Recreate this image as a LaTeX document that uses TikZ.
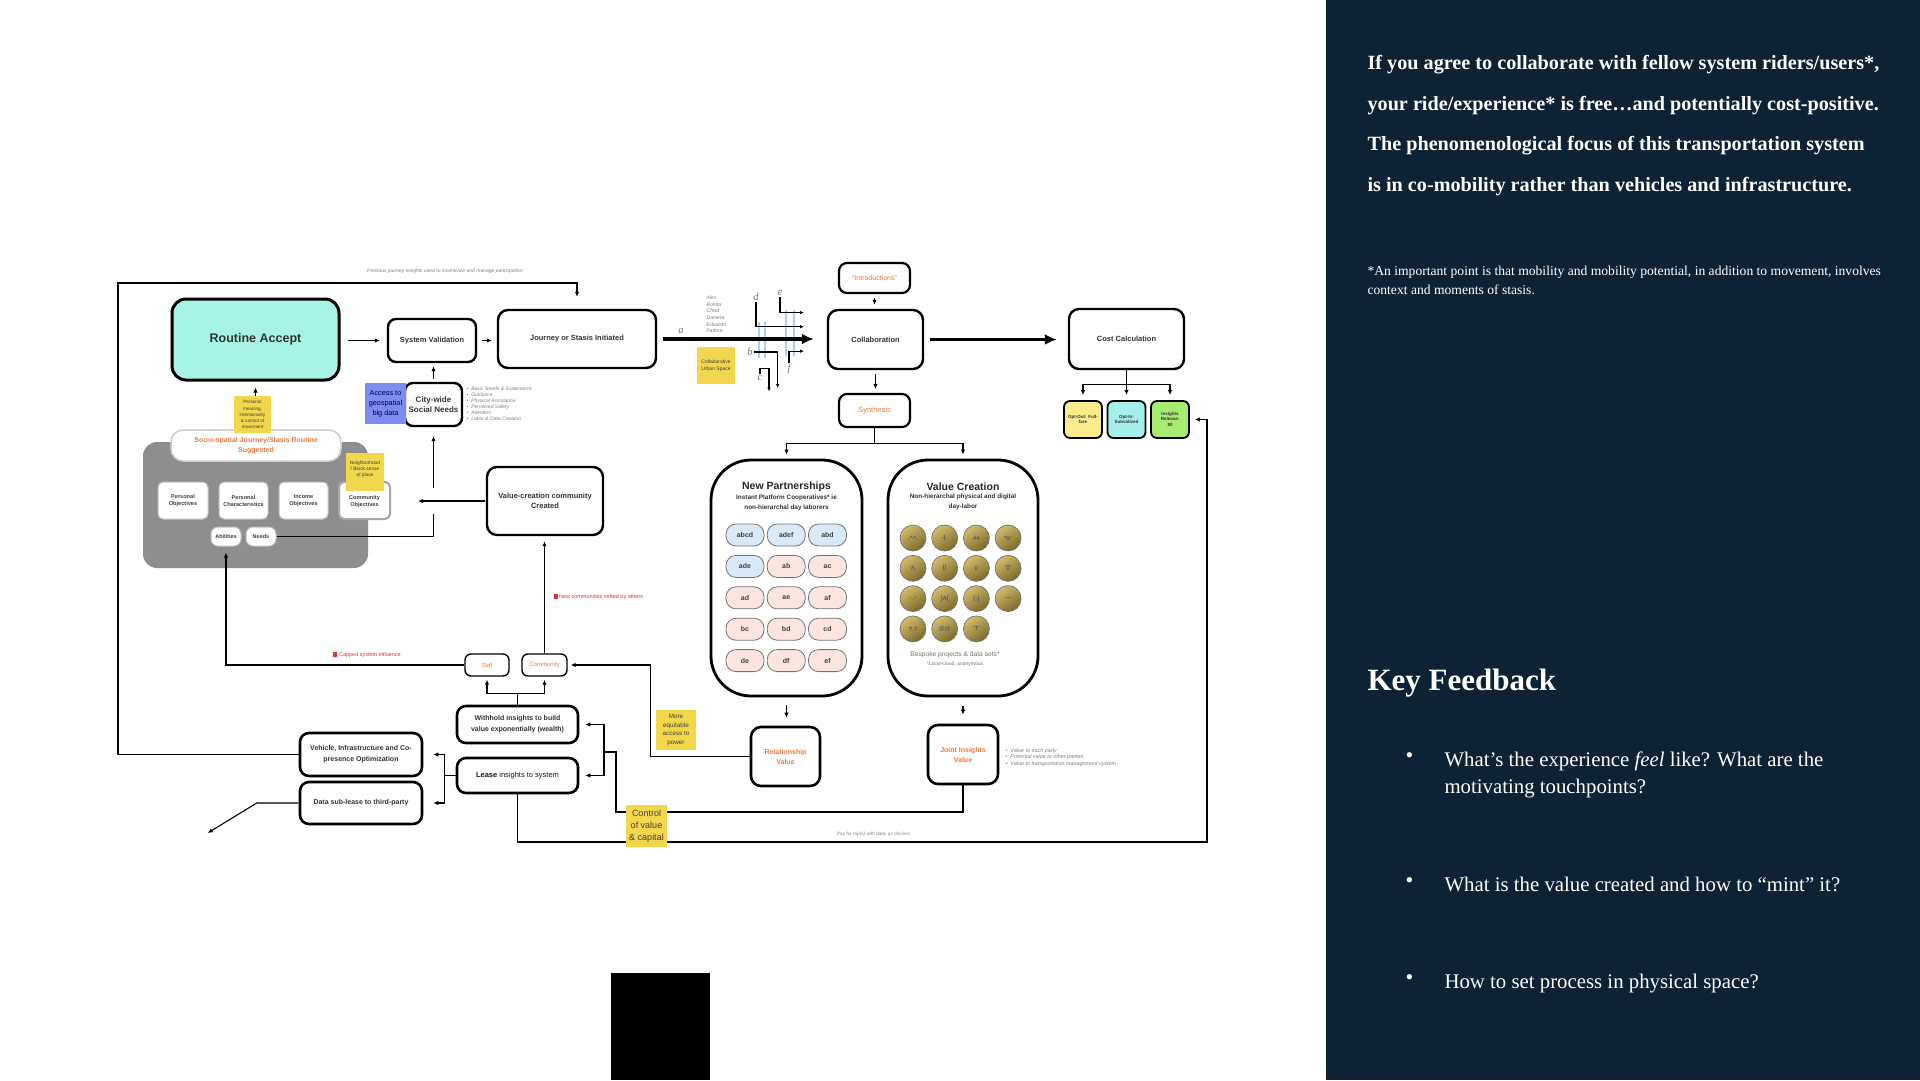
\documentclass[tikz,border=0pt]{standalone}
\usepackage{fontspec}
\setmainfont{Liberation Sans}
\newfontfamily\panelserif{Liberation Serif}
\usetikzlibrary{arrows.meta, positioning, calc}

\definecolor{panelnavy}{HTML}{0F2233}
\definecolor{routinecyan}{HTML}{A7F3E6}
\definecolor{stickyyellow}{HTML}{F2D64B}
\definecolor{stickyblue}{HTML}{7D8CF0}
\definecolor{noteorange}{HTML}{E97A3B}
\definecolor{panelgray}{HTML}{8E8E8E}
\definecolor{pillblue}{HTML}{D9E9F7}
\definecolor{pillpink}{HTML}{FBE6DF}
\definecolor{optyellow}{HTML}{F8EC8C}
\definecolor{optcyan}{HTML}{A6F0EA}
\definecolor{optgreen}{HTML}{A8EB73}
\definecolor{coinlight}{HTML}{D2BE6C}
\definecolor{coindark}{HTML}{7A682A}
\definecolor{flagred}{HTML}{D93A2B}
\definecolor{splitblue}{HTML}{A9CFF4}

\newcommand\fsz[2]{\fontsize{#1}{#2}\selectfont}

\begin{document}
\begin{tikzpicture}[
    x=1pt, y=-1pt,
    >={Latex[length=5pt,width=4.4pt]},
    line width=1.1pt,
    box/.style={draw, line width=2.4pt, rounded corners=8pt, fill=white, align=center, inner sep=1pt, font=\bfseries\fsz{7.5}{10}, text=black!80},
    tagbox/.style={draw, line width=1.4pt, rounded corners=6pt, fill=white, align=center, inner sep=1pt, font=\fsz{6}{7}, text=noteorange},
    optbox/.style={draw, line width=1.8pt, rounded corners=6pt, align=center, inner sep=0.5pt, minimum width=38pt, minimum height=37pt, font=\bfseries\fsz{4.5}{5.4}, text=black!80},
    innerbox/.style={draw=black!25, line width=1pt, fill=white, rounded corners=5pt, align=center, inner sep=1pt, minimum height=37pt, font=\bfseries\fsz{5.6}{7}, text=black!75},
    sticky/.style={fill=stickyyellow, align=center, inner sep=1pt, text=black!75},
    pill/.style={draw=black!55, line width=0.8pt, rounded corners=10pt, minimum width=38pt, minimum height=22pt, font=\bfseries\fsz{7}{8}, text=black!75},
    coin/.style={circle, draw=black!55, line width=0.7pt, minimum size=26pt, inner sep=0pt, top color=coinlight, bottom color=coindark, shading angle=35, font=\bfseries\fsz{6}{7}, text=black!65},
    note/.style={font=\itshape\fsz{5}{6}, text=black!50, inner sep=0pt},
    flagnote/.style={font=\fsz{5.5}{6}, text=flagred, inner sep=0pt, anchor=west},
    greek/.style={font=\panelserif\itshape\fsz{10.5}{11}, text=black!55, inner sep=0.5pt},
    branch/.style={->, line width=1.2pt, >={Latex[length=4pt,width=3.5pt]}},
    bigarrow/.style={->, line width=3.6pt, >={Latex[length=12pt,width=11pt]}},
    gapped/.style={shorten <=#1, shorten >=#1},
    lead/.style={font=\panelserif\bfseries\fsz{20.2}{23}, text=white, inner sep=0pt, anchor=base west},
    footnote/.style={font=\panelserif\fsz{13.6}{15}, text=white, inner sep=0pt, anchor=base west},
    fbitem/.style={font=\panelserif\fsz{20.8}{24}, text=white, inner sep=0pt, anchor=base west},
]
    \useasboundingbox (0,0) rectangle (1920,1080);
    \fill[white] (0,0) rectangle (1326,1080);
    \fill[panelnavy] (1326,0) rectangle (1920,1080);

    \node[box, fill=routinecyan, line width=3pt, rounded corners=14pt, minimum width=167pt, minimum height=81pt, font=\bfseries\fsz{12.5}{14}] (routine) at (255.5,339.5) {Routine Accept};
    \node[box, minimum width=88pt, minimum height=43pt] (sysval) at (432,340.5) {System Validation};
    \node[box, minimum width=158pt, minimum height=58pt, rounded corners=10pt] (journey) at (577,339) {Journey or Stasis Initiated};
    \node[box, minimum width=95pt, minimum height=59pt, rounded corners=10pt] (collab) at (875.5,339.5) {Collaboration};
    \node[tagbox, line width=2.2pt, rounded corners=8pt, minimum width=71pt, minimum height=30pt, font=\fsz{7}{8}] (intro) at (874.5,278) {“Introductions”};
    \node[tagbox, line width=2.2pt, rounded corners=8pt, minimum width=71pt, minimum height=33pt, font=\fsz{7.5}{8}] (synth) at (874.5,410.5) {Synthesis};
    \node[box, minimum width=115pt, minimum height=60pt, rounded corners=10pt] (cost) at (1126.5,339) {Cost Calculation};
    \node[optbox, fill=optyellow] (optout) at (1083,419.5) {Opt-Out: Full-\\fare};
    \node[optbox, fill=optcyan] (optin) at (1126.5,419.5) {Opt-In:\\Subsidized};
    \node[optbox, fill=optgreen] (release) at (1170,419.5) {Insights\\Release:\\\$0};

    \node[fill=panelgray, rounded corners=14pt, minimum width=225pt, minimum height=126pt] (routinepanel) at (255.5,505) {};
    \node[draw=black!20, line width=1.5pt, fill=white, rounded corners=12pt, minimum width=170pt, minimum height=31pt, align=center, inner sep=1pt, font=\bfseries\fsz{7}{10}, text=noteorange] (socio) at (256,445.5) {Socio-spatial Journey/Stasis Routine\\Suggested};
    \node[innerbox, minimum width=50pt] (persobj) at (183,500.5) {Personal\\Objectives};
    \node[innerbox, minimum width=49pt] (perschar) at (243.5,500.5) {Personal\\Characteristics};
    \node[innerbox, minimum width=49pt] (incobj) at (303.5,500.5) {Income\\Objectives};
    \node[innerbox, minimum width=51pt, draw=black!35, line width=2pt] (commobj) at (364.5,500.5) {\\Community\\Objectives};
    \node[innerbox, minimum width=30pt, minimum height=19pt, rounded corners=7pt, font=\bfseries\fsz{5.5}{6}] (abilities) at (226,536.5) {Abilities};
    \node[innerbox, minimum width=30pt, minimum height=19pt, rounded corners=7pt, font=\bfseries\fsz{5.5}{6}] (needs) at (261,536.5) {Needs};

    \node[box, minimum width=57pt, minimum height=43pt, font=\bfseries\fsz{8}{10}] (citywide) at (433.5,404.5) {City-wide\\Social Needs};
    \node[fill=stickyblue, minimum size=41pt, inner sep=1pt, align=center, font=\fsz{7.3}{9.8}, text=black!70!blue] (geodata) at (385.5,403.5) {Access to\\geospatial\\big data};
    \node[note, anchor=north west, align=left] (needlist) at (466,386) {\textbullet\hspace{3pt}Basic Needs \& Sustenance\\\textbullet\hspace{3pt}Guidance\\\textbullet\hspace{3pt}Physical Assistance\\\textbullet\hspace{3pt}Perceived Safety\\\textbullet\hspace{3pt}Attention\\\textbullet\hspace{3pt}Labor \& Data Creation};
    \node[box, minimum width=116pt, minimum height=68pt, rounded corners=10pt] (valcomm) at (545,501) {Value-creation community\\Created};

    \node[draw, line width=2.8pt, rounded corners=40pt, minimum width=151pt, minimum height=236pt] (partner) at (786.5,578) {};
    \node[font=\bfseries\fsz{10.5}{12}, text=black!85, inner sep=0pt] (partnertitle) at (786.5,487) {New Partnerships};
    \node[font=\bfseries\fsz{6.4}{9.5}, text=black!80, align=center, inner sep=0pt, below=2pt of partnertitle] (partnersub) {Instant Platform Cooperatives* ie\\non-hierarchal day laborers};
    \node[draw, line width=2.8pt, rounded corners=40pt, minimum width=150pt, minimum height=236pt] (valcre) at (963,578) {};
    \node[font=\bfseries\fsz{10.5}{12}, text=black!85, inner sep=0pt] (valcretitle) at (963,487) {Value Creation};
    \node[font=\bfseries\fsz{6.4}{9.5}, text=black!80, align=center, inner sep=0pt, below=2pt of valcretitle] (valcresub) {Non-hierarchal physical and digital\\day-labor};

    \foreach \lab/\col/\row/\tone in {abcd/0/0/pillblue, adef/1/0/pillblue, abd/2/0/pillblue, ade/0/1/pillblue, ab/1/1/pillpink, ac/2/1/pillpink, ad/0/2/pillpink, ae/1/2/pillpink, af/2/2/pillpink, bc/0/3/pillpink, bd/1/3/pillpink, cd/2/3/pillpink, de/0/4/pillpink, df/1/4/pillpink, ef/2/4/pillpink}
        \node[pill, fill=\tone] (pill-\lab) at ({745+41.25*\col},{535+31.4*\row}) {\lab};

    \foreach \face [count=\k from 0] in {{.\textasciicircum\textasciicircum.}, {-\textbar-}, {\#\#}, {`\%`}, {'/\textbackslash.}, {()}, {\textbackslash/}, {'||'}, {-\_-}, {]A[}, {[-]}, {-{}-{}-}, {?.?}, {@@}, {'T'}}{
        \pgfmathtruncatemacro{\ccol}{mod(\k,4)}
        \pgfmathtruncatemacro{\crow}{floor(\k/4)}
        \node[coin] (coin\k) at ({913+31.7*\ccol},{538+30.3*\crow}) {\face};
    }
    \node[font=\fsz{6.7}{8}, text=black!55, inner sep=0pt] (bespoke) at (955,655) {Bespoke projects \& data sets*};
    \node[font=\fsz{5}{6}, text=black!55, inner sep=0pt, below=3pt of bespoke] (localcloud) {*Local-cloud, anonymous};

    \node[box, line width=2.6pt, rounded corners=10pt, minimum width=69pt, minimum height=59pt, font=\bfseries\fsz{7}{10}, text=noteorange] (relval) at (785.5,756.5) {Relationship\\Value};
    \node[box, line width=2.6pt, rounded corners=10pt, minimum width=70pt, minimum height=59pt, font=\bfseries\fsz{7}{10}, text=noteorange] (joint) at (963,754.5) {Joint Insights\\Value};
    \node[note, anchor=north west, align=left, font=\itshape\fsz{5.4}{6.5}] (jointlist) at (1005,748) {\textbullet\hspace{3pt}Value to each party\\\textbullet\hspace{3pt}Potential value to other parties\\\textbullet\hspace{3pt}Value to transportation management system};

    \node[tagbox, minimum width=44pt, minimum height=22pt] (self) at (487,665) {Self};
    \node[tagbox, minimum width=45pt, minimum height=22pt] (commun) at (544.5,665) {Community};
    \node[box, line width=2.6pt, rounded corners=9pt, minimum width=121pt, minimum height=37pt, font=\bfseries\fsz{7}{10.7}] (withhold) at (517.5,724.5) {Withhold insights to build\\value exponentially (wealth)};
    \node[box, line width=2.6pt, rounded corners=9pt, minimum width=121pt, minimum height=35pt, font=\fsz{7.5}{10}, text=black!90] (lease) at (517.5,775.5) {\textbf{Lease} insights to system};
    \node[box, line width=2.6pt, rounded corners=9pt, minimum width=122pt, minimum height=43pt, font=\bfseries\fsz{7}{10.7}] (vehicle) at (361,754.5) {Vehicle, Infrastructure and Co-\\presence Optimization};
    \node[box, line width=2.6pt, rounded corners=9pt, minimum width=122pt, minimum height=42pt, font=\bfseries\fsz{7}{10.7}] (datasub) at (361,803) {Data sub-lease to third-party};

    \node[note] (prevlabel) at (445,271) {Previous journey insights used to incentivize and manage participation};
    \node[flagnote] (cappedlabel) at (332,655) {\rule{4.5pt}{4.5pt}\hspace{2pt}Capped system influence};
    \node[flagnote] (vettedlabel) at (553,597) {\rule{4.5pt}{4.5pt}\hspace{1pt}New communities vetted by others};
    \node[note, font=\itshape\fsz{4.7}{6}] (paylabel) at (874,834) {Pay for trip(s) with data, as desired.};
    \node[note, anchor=north west, align=left, font=\itshape\fsz{5.2}{6.7}] (riders) at (706,295) {Alex\\Bonita\\Chad\\Daniela\\Eduardo\\Fatima};

    \draw[->, gapped=7] (routine.east |- sysval.west) -- (sysval.west);
    \draw[->, gapped=5] (sysval.east) -- (sysval.east -| journey.west);
    \foreach \xs/\ya/\yb in {759/322/358, 765/322/358, 786/310/356, 794/310/356}
        \draw[splitblue, line width=1.8pt] (\xs,\ya) -- (\xs,\yb);
    \draw[bigarrow, shorten <=6pt, shorten >=13pt] (journey.east) -- (journey.east -| collab.west);
    \draw[->, gapped=4] (intro.south) -- (intro.south |- collab.north);
    \draw[->, gapped=4] (collab.south) -- (collab.south |- synth.north);
    \draw[bigarrow, shorten <=6pt, shorten >=11pt] (collab.east) -- (collab.east -| cost.west);
    \draw (cost.south) -- ++(0,14) coordinate (costsplit);
    \foreach \opt in {optout, optin, release}
        \draw[->, shorten >=5pt] (costsplit) -| (\opt.north);
    \draw (synth.south) -- ++(0,15) coordinate (synthsplit);
    \draw[->, shorten >=4pt] (synthsplit) -| (partner.north);
    \draw[->, shorten >=4pt] (synthsplit) -| (valcre.north);
    \draw[->, gapped=8] (partner.south) -- (partner.south |- relval.north);
    \draw[->, gapped=9] (valcre.south) -- (valcre.south |- joint.north);

    \node[greek] (lbla) at (681,331) {a};
    \node[greek] (lbld) at (756,297) {d};
    \node[greek] (lble) at (780,293) {e};
    \node[greek] (lblb) at (750,352) {b};
    \node[greek] (lblc) at (760,378) {c};
    \node[greek] (lblf) at (789,369) {f};
    \draw[branch] (lbld.south) |- ++(48,25);
    \draw[branch] (lble.south) |- ++(24,16);
    \draw[branch] (lblb.east) -| ++(24,36);
    \draw[branch] (lblc.north) -- ++(0,-6) -| ++(9,23);
    \draw[branch] (lblf.north) |- ++(15,-12);
    \node[sticky, minimum width=38pt, minimum height=37pt, font=\fsz{5}{7.3}] (urbanspace) at (716,365.5) {Collaborative\\Urban Space};

    \draw[->, gapped=3] (citywide.north) -- (citywide.north |- sysval.south);
    \draw[->, shorten >=9pt] (needs.east) -| (citywide.south);
    \draw[->, shorten <=1pt, shorten >=27pt, preaction={draw=white, line width=26pt, -}] (valcomm.west) -- (valcomm.west -| commobj.east);
    \draw[->, shorten >=5pt] (commun.north) -- (commun.north |- valcomm.south);
    \draw[->, shorten >=6pt] (self.west) -| (abilities.south);
    \draw (withhold.north) -- ++(0,-11) coordinate (holdsplit);
    \draw[->, shorten >=3pt] (holdsplit) -| (self.south);
    \draw[->, shorten >=3pt] (holdsplit) -| (commun.south);
    \draw[->, shorten >=3pt] (relval.west) -| ($(commun.east)+(83,0)$) -- (commun.east);
    \draw (lease.west) -- ++(-11,0) coordinate (leasesplit);
    \draw[->, shorten >=10pt] (leasesplit) |- (vehicle.east);
    \draw[->, shorten >=10pt] (leasesplit) |- (datasub.east);
    \draw[->] (datasub.west) -- ++(-42,0) -- ++(-49,30);
    \coordinate (loopcorner) at (118,283);
    \draw[->, shorten >=12pt] (vehicle.west) -| (loopcorner) -| (journey.north);
    \coordinate (capitalturn) at (616,812);
    \coordinate (capitalsplit) at (604,752);
    \draw (joint.south) |- (capitalturn) |- (capitalsplit);
    \draw[->, shorten >=6pt] (capitalsplit) |- (withhold.east);
    \draw[->, shorten >=6pt] (capitalsplit) |- (lease.east);
    \coordinate (payturn) at (1207,842);
    \draw[->, shorten >=5pt] (lease.south) |- (payturn) |- (release.east);
    \draw[->, shorten >=6pt] (socio.north -| routine.south) -- (routine.south);

    \node[sticky, minimum width=37pt, minimum height=37pt, font=\fsz{4.6}{6.1}] (meaning) at (252.5,414.5) {Personal\\meaning,\\intentionality\\\& control of\\movement};
    \node[sticky, minimum width=38pt, minimum height=38pt, font=\fsz{4.8}{6}] (placesense) at (365,472) {Neighborhood\\/ Block sense\\of place\\~};
    \node[sticky, minimum width=40pt, minimum height=40pt, font=\fsz{6.3}{8.7}] (equitable) at (676,730) {More\\equitable\\access to\\power};
    \node[sticky, minimum width=41pt, minimum height=42pt, font=\fsz{9}{12.3}] (capital) at (646.5,826) {Control\\of value\\\& capital};

    \fill[black] (611,973) rectangle (710,1080);

    \node[lead] (lead1) at (1367,69) {If you agree to collaborate with fellow system riders/users*,};
    \node[lead] (lead2) at (1367,110) {your ride/experience* is free…and potentially cost-positive.};
    \node[lead] (lead3) at (1367,150) {The phenomenological focus of this transportation system};
    \node[lead] (lead4) at (1367,191) {is in co-mobility rather than vehicles and infrastructure.};
    \node[footnote] (foot1) at (1367,275) {*An important point is that mobility and mobility potential, in addition to movement, involves};
    \node[footnote] (foot2) at (1367,294) {context and moments of stasis.};
    \node[font=\panelserif\bfseries\fsz{31}{36}, text=white, inner sep=0pt, anchor=base west] (keyfb) at (1367,690) {Key Feedback};
    \node[fbitem] (fb1a) at (1444,766) {What’s the experience \textit{feel} like? What are the};
    \node[fbitem] (fb1b) at (1444,793) {motivating touchpoints?};
    \node[fbitem] (fb2) at (1444,891) {What is the value created and how to “mint” it?};
    \node[fbitem] (fb3) at (1444,988) {How to set process in physical space?};
    \foreach \item in {fb1a, fb2, fb3}
        \node[fbitem, font=\panelserif\fsz{22}{24}] at ([xshift=-39pt, yshift=4pt]\item.base west) {•};
\end{tikzpicture}
\end{document}
